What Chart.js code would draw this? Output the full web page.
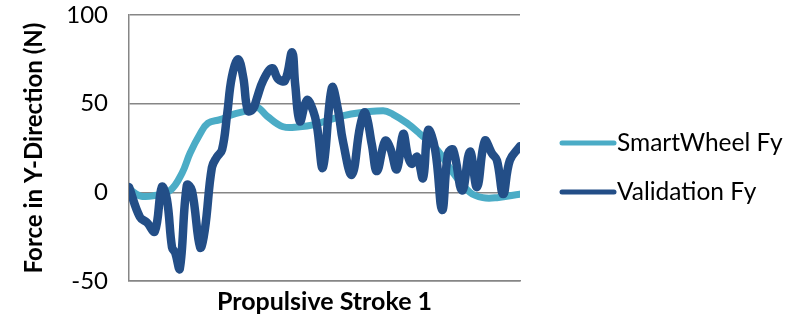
<!DOCTYPE html>
<html>
<head>
<meta charset="utf-8">
<script src="https://cdn.jsdelivr.net/npm/chart.js@4/dist/chart.umd.min.js"></script>
<style>
  html,body{margin:0;padding:0;background:#fff;}
  #wrap{width:802px;height:320px;}
</style>
</head>
<body>
<div id="wrap"><canvas id="c" width="802" height="320"></canvas></div>
<script>
// ---- data (position along the stroke in %, force in N) ----
const yTicks = [-50, 0, 50, 100];

const smartPct = [0, 2.8, 6.1, 10.5, 13.6, 15.6, 18.2, 20.2, 23.3, 26.6, 30.2, 32.7, 35.3, 39.4, 43.7, 47.1,
  51.4, 56.5, 65.0, 67.5, 71.1, 74.4, 78.8, 82.9, 87.2, 90.5, 94.1, 100];
const smartFy = [2, -2, -2, 1, 11, 22, 33, 39, 41, 44, 46, 48, 43, 37, 37, 38,
  41, 44, 46, 44, 39, 33, 24, 11, 0, -3, -3, -1];

const validPct = [0, 2.8, 4.6, 6.6, 8.4, 9.7, 11.0, 11.8, 13.0, 14.8, 16.1, 18.2, 19.4, 21.2, 22.5, 23.8,
  25.1, 26.3, 27.9, 29.2, 30.4, 31.7, 32.7, 34.3, 36.6, 38.1, 39.9, 41.7, 42.5, 43.7, 45.5, 47.1,
  48.1, 49.6, 51.9, 53.5, 54.7, 57.0, 59.1, 60.4, 62.1, 63.4, 65.5, 66.8, 68.5, 70.1, 71.4, 72.4,
  73.7, 75.2, 76.5, 78.3, 80.1, 81.6, 82.9, 85.2, 87.2, 89.0, 91.0, 92.8, 94.1, 95.7, 97.4, 100];
const validFy = [3, -14, -17, -22, 3, -4, -31, -34, -43, 4, 1, -31, -21, 14, 20, 24,
  44, 65, 75, 65, 46, 47, 53, 63, 70, 64, 63, 79, 61, 40, 52, 46,
  37, 14, 59, 46, 29, 10, 37, 45, 27, 12, 29, 25, 13, 33, 20, 16,
  20, 8, 35, 24, -10, 22, 24, 1, 23, 3, 29, 22, 18, -1, 18, 26];

const labels = ['SmartWheel Fy', 'Validation Fy'];
const colors = ['#4BACC6', '#234E87'];

const FONT = 'Lato, "Open Sans", sans-serif';
const toPoints = (xs, ys) => xs.map((x, i) => ({x: x, y: ys[i]}));

// legend drawn at the right like the spreadsheet one
const sideLegend = {
  id: 'sideLegend',
  afterDraw(chart){
    const ctx = chart.ctx;
    const a = chart.chartArea;
    const rows = [a.top + 128, a.top + 177];
    ctx.save();
    ctx.font = '24.5px ' + FONT;
    ctx.textBaseline = 'middle';
    ctx.fillStyle = '#000';
    chart.data.datasets.forEach((ds, i) => {
      const y = rows[i];
      ctx.strokeStyle = ds.borderColor;
      ctx.lineWidth = 5;
      ctx.lineCap = 'round';
      ctx.beginPath();
      ctx.moveTo(a.right + 42, y);
      ctx.lineTo(a.right + 94, y);
      ctx.stroke();
      ctx.fillText(ds.label, a.right + 97, y);
    });
    ctx.restore();
  }
};

new Chart(document.getElementById('c'), {
  type: 'line',
  data: {
    datasets: [
      {label: labels[0], data: toPoints(smartPct, smartFy), borderColor: colors[0], backgroundColor: colors[0],
        borderWidth: 7, pointRadius: 0, tension: 0.4, borderCapStyle: 'round', borderJoinStyle: 'round', order: 2},
      {label: labels[1], data: toPoints(validPct, validFy), borderColor: colors[1], backgroundColor: colors[1],
        borderWidth: 8.5, pointRadius: 0, tension: 0.4, borderCapStyle: 'round', borderJoinStyle: 'round', order: 1}
    ]
  },
  options: {
    responsive: false,
    animation: false,
    layout: {padding: {top: 15, right: 282, bottom: 0, left: 0}},
    plugins: {legend: {display: false}, tooltip: {enabled: false}},
    scales: {
      x: {
        type: 'linear', min: 0, max: 100,
        grid: {display: false, drawTicks: false},
        border: {display: true, color: '#868686', width: 1.5},
        ticks: {display: false},
        title: {display: true, text: 'Propulsive Stroke 1', color: '#000',
          font: {family: FONT, size: 25, weight: 'bold'},
          padding: {top: 6, bottom: 3}}
      },
      y: {
        min: -50, max: 100,
        afterBuildTicks: s => { s.ticks = yTicks.map(v => ({value: v})); },
        afterFit: s => { s.width = 129; s.paddingTop = 0; s.paddingBottom = 0; },
        grid: {color: '#868686', lineWidth: 1.5, drawTicks: false},
        border: {display: true, color: '#868686', width: 1.5},
        ticks: {color: '#000', padding: 21, font: {family: FONT, size: 24}},
        title: {display: true, text: 'Force in Y-Direction (N)', color: '#000',
          font: {family: FONT, size: 24, weight: 'bold'},
          padding: {top: 20, bottom: 0}}
      }
    }
  },
  plugins: [sideLegend]
});
</script>
</body>
</html>
